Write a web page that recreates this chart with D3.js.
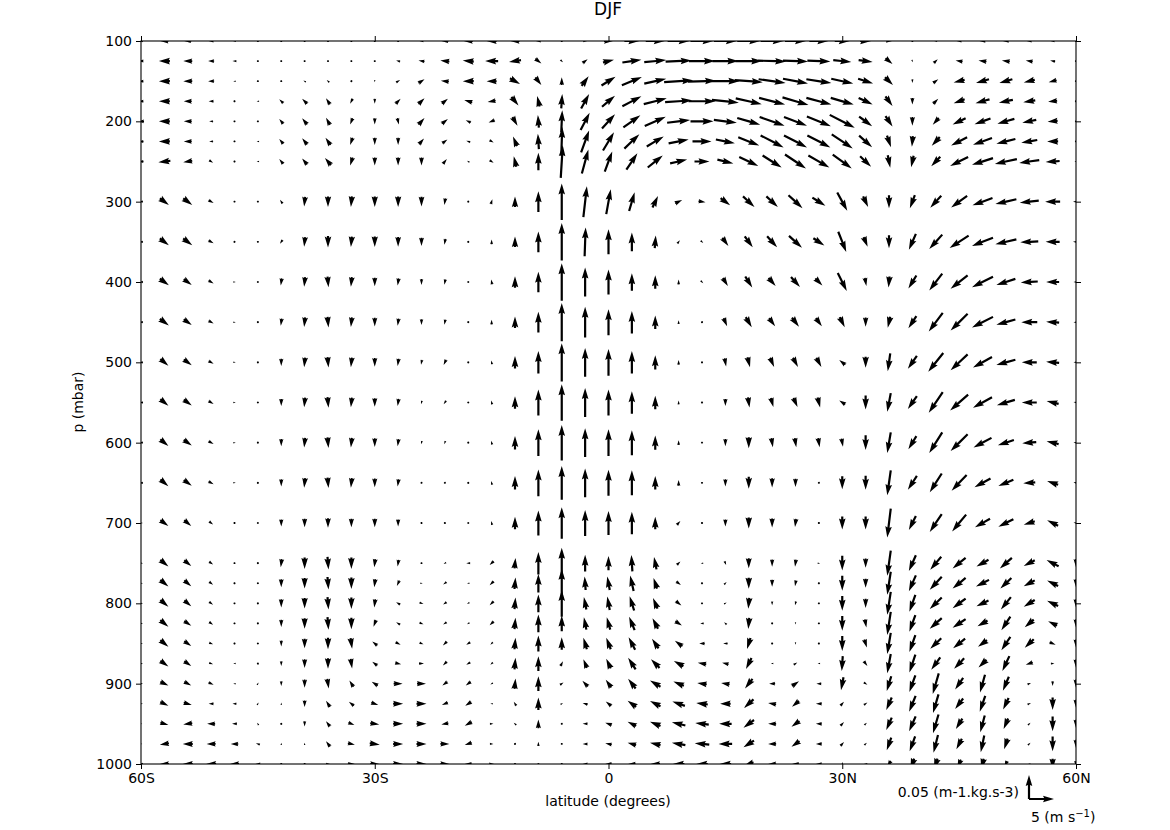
<!DOCTYPE html>
<html><head><meta charset="utf-8">
<script src="https://cdn.jsdelivr.net/npm/d3@7"></script>
<style>body{margin:0;background:#fff}svg{display:block}</style>
</head><body><svg id="c" width="1170" height="830"></svg>
<script>
// grid
const latitudes = [-60,-57,-54,-51,-48,-45,-42,-39,-36,-33,-30,-27,-24,-21,-18,-15,-12,-9,-6,-3,0,3,6,9,12,15,18,21,24,27,30,33,36,39,42,45,48,51,54,57,60];
const levels = [100,125,150,175,200,225,250,300,350,400,450,500,550,600,650,700,750,775,800,825,850,875,900,925,950,975,1000];
const xTickValues = [-60,-30,0,30,60];
const xTickLabels = ['60S','30S','0','30N','60N'];
const yTickValues = [100,200,300,400,500,600,700,800,900,1000];

// meridional wind (m/s), one row per level
const vWind = [
[-0.8,-1.6,-1.4,-1,-0.6,-0.2,0,0,0,0,0,-0.2,-0.8,-1.4,-1.8,-2,-1.8,-1,0,0.8,1.8,3,3.8,4.4,4.6,4.6,4.6,4.6,4.2,3.8,3,2.2,1.2,0.2,-0.6,-1,-1.2,-1.2,-1,-0.8,-0.2],
[-1,-2.2,-1.8,-1.2,-0.8,-0.3,-0.2,-0.2,-0.2,-0.2,-0.2,-0.8,-1.2,-1.8,-2.2,-2.6,-2.4,1.2,0.5,1,2.2,3.8,4.4,5.2,5.2,5.2,5.4,5.6,5,4.6,3.6,2.8,1.4,0.2,0.8,-1.4,-1.6,-1.6,-1.4,-1,-0.2],
[-1,-2.2,-1.8,-1.2,-0.5,-0.3,-0.2,-0.5,-0.5,-0.3,0,0.8,1.2,-1.6,-2.2,-2,2,1.2,0,1.4,2.8,4,4.4,5.8,5.6,5.6,5.6,5.4,5,5,4.4,3,1.6,0,1,-2.2,-2.6,-2.6,-2.2,-1.6,-0.2],
[-1,-2.2,-1.6,-1,-0.3,-0.5,-0.8,-1,-0.8,-0.5,0,1,1.2,1.2,-1.6,-1.6,1.4,-0.5,0.2,1.6,2.6,3.8,4.6,5.4,5.4,5.4,5.2,5.2,5.2,5,4.6,2.8,1.4,0,1,-2.2,-2.8,-2.8,-2.4,-1.8,-0.2],
[-1.2,-2.2,-1.6,-0.8,-0.3,-0.3,-0.8,-1,-0.8,-0.5,0,0.3,1.2,1.2,-1,-1.2,1,-0.2,0.2,1.8,2.6,3.4,4.2,4.6,4.6,4.6,4.6,5,4.6,4.8,5,2.6,1.4,0,-1.2,-2.6,-3.2,-3.4,-2.8,-2,-0.2],
[-1,-2.2,-1.6,-0.8,-0.3,-0.5,-0.8,-1,-1,-0.5,0,0,1,1,-0.8,0.8,-0.8,-0.2,0.2,1.6,2.2,3,3.4,4,3.8,3.8,4.2,4.6,4.6,4.6,4.2,2.6,0.8,-0.2,-1.6,-3.2,-3.8,-3.8,-3.2,-2.2,-0.4],
[-1,-2.4,-1.8,0.8,-0.3,-0.5,-0.8,-1,-1.2,-0.5,0,0,0,0.8,-0.5,0.8,-0.5,0,0.4,1.3,1.5,2.2,3,3.4,3,3.2,3.8,3.8,4.2,4.2,3.8,2.2,0.5,-0.5,-1.8,-3.6,-4.2,-4.4,-4,-2.8,-0.6],
[-0.8,1.8,1.8,1,0.3,0.3,-0.5,-0.2,0,-0.2,0,0,0,-0.2,0,0.3,0,0,0,0.7,0.9,1.1,1.1,1.4,1.4,1.9,2.3,2.3,2.8,2.6,2,1,0,-1,-2.2,-3.2,-4,-4.2,-3.8,-3,-1.2],
[-0.8,1.8,1.8,1,0.3,0.3,-0.5,-0.2,0,-0.2,0,0,0,-0.2,0,0,0,0,0,0.2,0,0,0.2,0.5,0.5,1.2,1.6,2,2.6,2.2,1.6,0.8,0,-1.4,-2.6,-3.8,-4.2,-4.2,-3.6,-2.8,-1.2],
[-0.8,1.8,1.6,1,0.5,0,-0.2,-0.2,0.2,-0.2,0,-0.2,0,-0.2,0,-0.2,0,0,0,0,0,0,0,0,0.5,1,1.4,1.4,1.8,1.4,1.8,0.3,-0.2,-1.6,-2.6,-3.4,-4.2,-3.8,-3.4,-2.6,-1],
[-0.8,1.8,1.6,1,0.5,0,-0.2,-0.2,0.2,-0.2,0,-0.2,0,-0.2,0,0,0,0,0,0,0,0,0,0,0.3,0.7,1.2,1.2,1.4,1.2,1,0,-0.5,-1.6,-2.8,-3.4,-4.2,-3.8,-3.2,-2.6,-1],
[-0.8,1.6,1.6,1,0.5,0,0,-0.2,0.2,-0.2,0,-0.2,-0.2,-0.5,0,-0.2,0,0,0,0,0,0,0,0,0,0.3,0.5,0.8,1,1,-1.2,0,-0.5,-1.8,-3,-3.4,-3.8,-3.8,-3,-2.6,-1],
[-0.8,1.6,1.6,1,0.5,0,0,-0.2,0.2,-0.2,0,-0.2,-0.2,-0.5,0,-0.2,0,0,0,0,0,0,0,0,0,0,0.3,0.5,0.8,0.5,-1.2,0,-0.7,-1.8,-2.8,-3.6,-3.8,-3.6,-3,-2.4,-1],
[-0.8,1.6,1.6,1,0.5,0,0,-0.2,0.2,-0.2,0,-0.2,-0.2,-0.2,0,-0.2,0,0,0,0,0,0,0,0,0,0,0,0.3,0.3,0.3,0.3,0,-0.7,-1.6,-2.6,-3.4,-3.6,-3.2,-2.8,-2.4,-1],
[-0.8,1.6,1.6,1,0.5,0,0,-0.2,0.2,-0.2,0,-0.2,-0.2,-0.2,0,-0.2,0,0,0,0,0,0,0,0,0,0,0,0,0,0.2,0,0,-0.7,-1.8,-2.4,-3,-3.2,-3,-2.4,-2.2,-1],
[0.8,1.6,1.4,0.8,0.3,0,0,0,0,0,0,0,-0.2,-0.2,0,-0.2,0,0,0,0,0,0,0,0.7,0,0,0,0,-0.2,0.2,0,0,-0.7,-1.4,-2.4,-2.8,-3,-3,-2.2,-2.2,-1],
[0.8,1.6,1.4,0.8,0.3,0,-0.2,0,0.2,0,-0.2,-0.2,0.3,-0.5,-0.8,-0.8,0.2,0,0,0,0,-0.2,-0.5,0.7,-0.5,0.3,0,0,-0.2,0.5,0,0,-0.7,-1.4,-2.2,-2.6,-2.4,-2.4,-2.2,-2.4,0],
[0.8,1.6,1.4,0.8,0.3,0,0,0,0.2,0,-0.2,-0.5,0.5,-0.7,-0.5,-0.8,0.2,0,0,-0.2,-0.5,-0.7,-0.7,0.9,-0.2,0.5,0,0,-0.2,0.2,0,0,-0.7,-1.4,-2.4,-2.6,-2.6,-2.2,-2.2,-2.2,0],
[0.8,1.6,1.4,0.8,0.3,0,0,0,0.2,0,-0.2,-0.8,0.8,-0.7,-0.5,-0.8,0.2,0,0,-0.5,-0.5,-0.9,-0.9,1.1,-0.2,0.5,-0.2,0,-0.2,0,0,0,-0.7,-1.2,-2.4,-2.6,-2.4,-2,-2.2,-2.2,0],
[0.8,1.6,1.4,0.8,0.3,0,0,0,0.2,0,-0.5,-0.8,0.8,-0.7,-0.5,-0.8,0.2,0,0,-0.5,-0.7,-1.1,-1.1,1.3,-0.7,-0.5,-0.2,0,0,0,0,0.3,-0.7,-1.2,-2.4,-2.6,-2,-1.8,-1.8,-1.8,0],
[0.8,1.6,1.4,0.8,0.3,0,0,0,0,0.3,-1,1,0.8,-0.8,-0.8,-0.5,0.2,0,0,-0.7,-0.9,-1.3,-1.3,-1.5,-1.1,-0.9,-0.7,0,0,0,0,0.5,-0.7,-1.2,-2.2,-2.4,-1.8,-1.8,-1.8,1.2,0],
[0.8,1.6,1.4,0.8,-0.5,0.3,0,0,0,0.3,-1,1.2,1,-0.8,-0.8,-0.5,0.2,0,0.5,-0.7,-0.9,-1.5,-1.7,-1.9,-1.7,-1.3,-1.1,-0.5,0.7,-0.5,-0.2,0.7,-0.7,-1.2,-1.8,-2,-1.6,-1.4,-1.4,0.7,0],
[0.8,1.6,1.4,1,-0.5,0.3,0,0,0.3,-0.8,-1.2,1.8,1.8,-1,-1,-0.5,0.2,0,0.7,-1.1,-1.1,-1.5,-2.1,-2.1,-1.9,-1.7,-1.5,-1.2,1.4,-1,-0.5,0.7,-0.9,-1.2,-1.2,-1.6,-1,-1.2,0.7,0,0],
[0.8,1.6,1.6,-1,-0.8,0.3,0,0,-0.8,-1,1.4,2,2,-1.2,-1.2,-0.5,-0.5,0,0.5,-1,-1.1,-1.7,-2.1,-2.5,-2.3,-2.1,-1.9,-1.6,-1.4,-1.2,0.7,0.7,-1.1,-1.3,-1.1,-1.6,-1.1,-1.1,0.7,0,0],
[0.5,1.6,-1.8,-1.6,-1,-0.3,0,0,-0.8,1.2,1.8,2,2,-1.4,-1.4,0.7,-0.5,0,0.2,-1,-1.3,-1.7,-2.1,-2.7,-2.7,-2.5,-2.1,-1.6,-1.6,-1.2,0.7,0.5,-1.1,-1.3,-1.1,-1.3,-0.9,-0.9,0.5,0,0],
[0.5,-1.8,-2,-1.8,-1.5,-0.8,0,0,-0.8,1.4,2,2,2,1.8,-1.4,0.7,-0.3,0,-0.2,-1,-1.3,-1.7,-2.1,-2.7,-2.9,-2.7,-2.1,-1.6,-1.6,-1.2,0.7,0.5,-0.9,-1.1,-0.9,-1.1,-0.7,-0.7,0.5,0,0],
[-0.8,-1.8,-2,-2,-1.8,-1,-0.3,0.3,0.8,1.4,1.8,2,2,1.8,-1.4,1,-0.3,0,0,-1,-1.3,-1.5,-1.9,-2.3,-2.3,-2.3,-1.9,-1.6,-1.4,-1.2,0.3,-0.7,-0.7,-0.7,-0.7,-0.7,-0.5,-0.5,-0.5,0,0]
];

// vertical component (upward positive), in 1e-3 m-1.kg.s-3, one row per level
const wVert = [
[0,0,0,0,0,0,0,0,0,0,0,0,0,0,0,0,0,0,0,0,0,0,0,0,0,0,0,0,0,0,0,0,0,0,0,0,0,0,0,0,0],
[0,0,0,0,0,0,0,0,0,0,0,2,2,2,2,0,-4,-10,-5,8,6,6,4,2,0,0,0,-2,-2,-2,-4,-4,-12,-5,8,2,2,2,2,2,0],
[0,0,0,0,0,0,0,3,5,3,-5,5,8,2,0,0,-12,-16,16,20,18,17,10,4,2,0,-4,-8,-10,-8,-10,-10,-16,-8,8,-6,-8,-8,-6,-4,0],
[0,0,0,0,0,0,8,10,13,-10,-10,10,12,10,5,-3,-18,22,30,30,23,21,12,4,0,-6,-12,-14,-16,-14,-14,-14,-20,-14,10,-8,-8,-6,-4,-2,0],
[0,0,0,0,0,0,10,13,15,-13,-13,-13,14,10,5,-5,-18,26,46,36,30,25,19,6,0,-6,-14,-18,-18,-20,-27,-20,-22,-18,-14,-13,-12,-10,-6,-2,0],
[0,0,0,0,0,0,10,13,15,-15,-15,-15,12,8,3,-5,20,32,60,46,38,30,21,8,0,-8,-17,-25,-25,-25,-29,-24,-24,-22,-18,-17,-14,-10,-6,0,0],
[0,-3,-3,-5,0,0,10,13,15,-17,-17,-17,-17,10,3,-5,22,36,68,50,42,34,25,8,0,-8,-19,-25,-29,-25,-29,-22,-26,-24,-20,-19,-14,-10,-6,-2,0],
[0,-14,-14,-6,0,0,8,-20,-22,-22,-22,-22,-20,-14,-3,10,22,43,76,64,52,39,24,7,-2,-15,-22,-22,-27,-17,-38,-22,-27,-27,-25,-24,-15,-10,-4,0,0],
[0,-14,-14,-6,-3,0,-8,-20,-24,-22,-22,-20,-17,-12,-3,10,22,43,78,60,52,39,26,7,-5,-17,-23,-23,-25,-15,-42,-20,-27,-33,-30,-26,-17,-10,-2,0,0],
[0,-14,-12,-6,0,3,-15,-20,-22,-20,-18,-15,-12,-11,-3,10,24,43,78,60,52,36,28,10,-5,-17,-23,-17,-21,-15,-37,-17,-23,-27,-35,-28,-22,-13,-2,0,0],
[0,-14,-12,-6,0,3,-15,-20,-22,-20,-18,-15,-12,-11,-3,10,24,43,80,64,54,47,28,8,-3,-17,-21,-17,-19,-17,-21,-19,-23,-25,-39,-35,-22,-11,0,2,0],
[0,-14,-12,-6,0,3,-15,-20,-22,-20,-18,-15,-10,-11,-3,8,26,47,80,60,56,47,30,10,-3,-17,-21,-19,-19,-19,10,-23,-37,-27,-39,-33,-22,-11,0,2,0],
[0,-14,-12,-6,0,3,-15,-20,-22,-20,-18,-15,-7,-7,-3,8,26,54,76,60,54,47,28,8,0,-15,-21,-19,-19,-21,8,-29,-39,-27,-43,-33,-22,-11,0,6,2],
[0,-14,-12,-6,0,3,-15,-20,-22,-20,-18,-15,-7,-7,-3,8,28,56,74,60,56,52,30,10,0,-15,-23,-19,-19,-19,-17,-31,-43,-27,-43,-35,-20,-11,-2,6,2],
[0,-14,-12,-6,0,3,-15,-20,-22,-20,-18,-15,-4,-4,-3,8,28,56,70,60,54,52,28,12,0,-15,-25,-19,-17,-3,-27,-29,-52,-29,-39,-33,-18,-13,-2,8,2],
[0,-12,-12,-6,0,3,-15,-18,-20,-18,-18,-15,-4,-4,-3,8,26,52,66,54,50,47,26,8,0,-15,-23,-19,-17,0,-27,-27,-60,-29,-37,-35,-18,-16,-7,11,2],
[0,-14,-12,-6,0,3,-17,-24,-26,-24,-17,-14,0,-3,0,-8,22,47,64,35,30,34,26,7,0,-8,-21,-15,-15,0,-31,-19,-52,-33,-27,-22,-14,-22,-12,13,-17],
[0,-14,-12,-6,0,3,-17,-22,-26,-24,-17,-11,0,-5,0,-8,24,39,60,28,28,32,22,-7,0,5,-23,-15,-12,0,-31,-19,-48,-33,-27,-22,-14,-22,-12,11,-17],
[0,-14,-12,-6,0,3,-17,-22,-26,-24,-17,5,-3,-5,-3,-8,24,37,56,26,28,30,22,-9,0,3,-23,-8,-8,0,-31,-19,-48,-35,-24,-20,-12,-26,-14,11,-17],
[0,-14,-10,-6,0,3,-15,-22,-26,-24,-14,5,-3,-5,-3,-8,24,37,33,26,26,28,22,-9,0,5,-23,-3,-5,0,-31,-17,-48,-35,-22,-18,-12,-28,-16,9,-17],
[0,-14,-10,-3,0,3,-12,-20,-24,-22,8,-5,-3,-8,-5,-5,24,33,26,24,24,26,20,11,0,0,-23,0,-5,0,-31,-17,-44,-35,-22,-20,-14,-28,-18,-5,-17],
[0,-12,-10,-3,0,3,-10,-18,-22,-20,8,-3,0,-8,-5,-5,24,31,10,18,20,24,18,11,3,3,-23,0,5,0,-31,-10,-40,-37,-26,-22,-16,-31,-5,0,-17],
[0,-8,-8,-5,0,5,-10,-17,-20,13,8,0,0,-8,-8,-3,22,31,5,12,16,20,13,9,3,3,-20,0,10,0,-27,-5,-31,-35,-43,-24,-37,-29,3,-10,-17],
[0,-8,-5,0,0,5,5,-14,13,8,-5,0,0,-5,-8,0,8,26,3,3,9,13,11,9,3,0,-18,3,-12,0,8,5,-26,-33,-39,-22,-33,-24,3,-26,-17],
[0,-5,-3,0,0,5,3,-11,11,-5,-3,0,0,-3,-8,0,5,18,-3,0,5,9,9,7,3,0,-16,0,-12,0,8,5,-26,-31,-39,-22,-35,-22,5,-31,-17],
[0,-3,0,0,0,3,5,5,11,-3,-3,0,0,0,-5,0,3,9,0,0,3,5,5,5,3,0,-14,0,-12,0,8,5,-26,-31,-37,-22,-35,-22,5,-31,-17],
[0,0,0,0,0,0,0,0,0,0,0,0,0,0,0,0,0,3,0,0,0,0,0,0,0,0,-7,0,0,0,8,0,-13,-22,-22,-18,-22,-13,0,-22,-13]
];

// quiver key values
const keyW = 50;   // 0.05 m-1.kg.s-3 (in 1e-3 units)
const keyV = 5;    // 5 m/s

const svg = d3.select('#c');
const M = {l:141, r:1076, t:41, b:764};
const x = d3.scaleLinear().domain([-60,60]).range([M.l,M.r]);
const y = d3.scaleLinear().domain([100,1000]).range([M.t,M.b]);
const vLen = d3.scaleLinear().domain([0,5]).range([0,25]);
const wLen = d3.scaleLinear().domain([0,50]).range([0,24]);
const SW = 2.2; // shaft width px
const FONT = "'DejaVu Sans', sans-serif";

// matplotlib-like quiver arrow polygon
function arrowPoints(cx, cy, dx, dy, pivot) {
  const L = Math.hypot(dx, dy) / SW;
  let X, Y;
  if (L < 1) {
    X = []; Y = [];
    for (let k = 0; k < 6; k++) { X.push(0.5*Math.cos(k*Math.PI/3)); Y.push(0.5*Math.sin(k*Math.PI/3)); }
  } else {
    Y = [0.5,0.5,1.5,0,-1.5,-0.5,-0.5];
    if (L < 5) {
      const s = L/5;
      X = [0,0.5,0,5,0,0.5,0].map(v=>v*s);
      Y = Y.map(v=>v*s);
    } else {
      X = [0,L-4.5,L-5,L,L-5,L-4.5,0];
    }
    if (pivot === 'middle') { const o = X[3]/2; X = X.map(v=>v-o); }
  }
  const a = Math.atan2(dy, dx), c = Math.cos(a), s = Math.sin(a);
  return X.map((xx,i)=>[cx + SW*(xx*c - Y[i]*s), cy + SW*(xx*s + Y[i]*c)]);
}

svg.append('defs').append('clipPath').attr('id','plotclip')
  .append('rect').attr('x',M.l).attr('y',M.t).attr('width',M.r-M.l).attr('height',M.b-M.t);

const cells = [];
levels.forEach((p,i)=>latitudes.forEach((lat,j)=>{
  cells.push({lat, p, v: vWind[i][j], w: wVert[i][j]});
}));

svg.append('g').attr('clip-path','url(#plotclip)')
  .selectAll('polygon').data(cells).join('polygon')
  .attr('points', d => arrowPoints(x(d.lat), y(d.p), vLen(d.v), -wLen(d.w), 'middle').map(q=>q.join(',')).join(' '))
  .attr('fill','#000');

// axes
function styleAxis(g){
  g.select('.domain').remove();
  g.selectAll('.tick line').attr('stroke','#000').attr('stroke-width',1);
  g.selectAll('.tick text').attr('font-family',FONT).attr('font-size',14).attr('fill','#000');
}
svg.append('g').attr('transform',`translate(0,${M.b})`)
  .call(d3.axisBottom(x).tickValues(xTickValues).tickFormat((d,i)=>xTickLabels[i]).tickSize(5).tickPadding(4)).call(styleAxis);
svg.append('g').attr('transform',`translate(0,${M.t})`)
  .call(d3.axisTop(x).tickValues(xTickValues).tickFormat('').tickSize(5)).call(styleAxis);
svg.append('g').attr('transform',`translate(${M.l},0)`)
  .call(d3.axisLeft(y).tickValues(yTickValues).tickFormat(d3.format('d')).tickSize(5).tickPadding(4)).call(styleAxis);
svg.append('g').attr('transform',`translate(${M.r},0)`)
  .call(d3.axisRight(y).tickValues(yTickValues).tickFormat('').tickSize(5)).call(styleAxis);

svg.append('rect').attr('x',M.l).attr('y',M.t).attr('width',M.r-M.l).attr('height',M.b-M.t)
  .attr('fill','none').attr('stroke','#000').attr('stroke-width',1.1);

// labels
svg.append('text').attr('x',608).attr('y',806).attr('text-anchor','middle')
  .attr('font-family',FONT).attr('font-size',14).text('latitude (degrees)');
svg.append('text').attr('transform','translate(83,402) rotate(-90)').attr('text-anchor','middle')
  .attr('font-family',FONT).attr('font-size',14).text('p (mbar)');
svg.append('text').attr('x',608).attr('y',15).attr('text-anchor','middle')
  .attr('font-family',FONT).attr('font-size',17).text('DJF');

// quiver key
const kx = 1029, ky = 799;
svg.append('polygon').attr('points', arrowPoints(kx, ky, 0, -wLen(keyW), 'tail').map(q=>q.join(',')).join(' ')).attr('fill','#000');
svg.append('polygon').attr('points', arrowPoints(kx, ky, vLen(keyV), 0, 'tail').map(q=>q.join(',')).join(' ')).attr('fill','#000');
svg.append('text').attr('x',1019).attr('y',797).attr('text-anchor','end')
  .attr('font-family',FONT).attr('font-size',14).text('0.05 (m-1.kg.s-3)');
const t2 = svg.append('text').attr('x',1031).attr('y',822).attr('font-family',FONT).attr('font-size',14);
t2.append('tspan').text('5 (m s');
t2.append('tspan').attr('dy',-5).attr('font-size',10).text('\u22121');
t2.append('tspan').attr('dy',5).text(')');
</script></body></html>
